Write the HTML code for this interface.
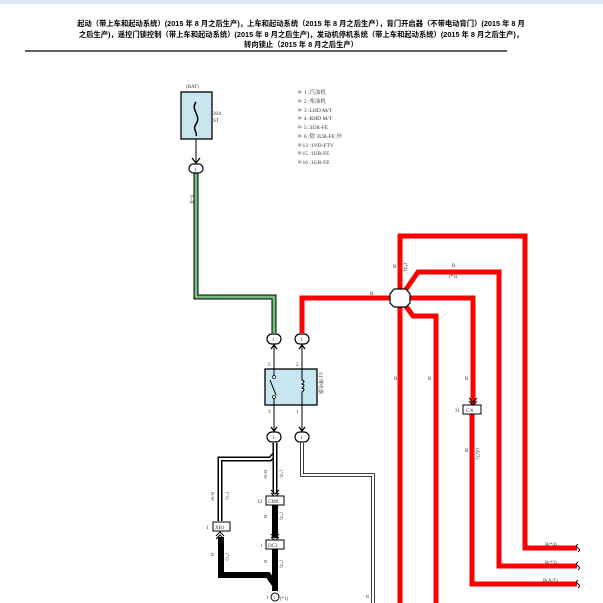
<!DOCTYPE html>
<html><head><meta charset="utf-8"><style>
body{margin:0;background:#fff}
svg{display:block}
text{font-family:"Liberation Serif","Noto Serif CJK SC",serif;fill:#333}
.t{font-family:"Liberation Sans","Noto Sans CJK SC",sans-serif;font-weight:bold;fill:#000;font-size:7.3px}
</style></head><body>
<svg width="603" height="603" viewBox="0 0 603 603" xmlns="http://www.w3.org/2000/svg">
<rect x="0" y="0" width="603" height="4" fill="#dbe7f5"/>
<text class="t" x="301" y="26" text-anchor="middle">起动（带上车和起动系统）(2015 年 8 月之后生产)，上车和起动系统（2015 年 8 月之后生产），背门开启器（不带电动背门）(2015 年 8 月</text>
<text class="t" x="301" y="37" text-anchor="middle">之后生产)，遥控门锁控制（带上车和起动系统）(2015 年 8 月之后生产)，发动机停机系统（带上车和起动系统）(2015 年 8 月之后生产)，</text>
<text class="t" x="301" y="47" text-anchor="middle">转向锁止（2015 年 8 月之后生产）</text>
<line x1="25" y1="51" x2="507" y2="51" stroke="#000" stroke-width="1.3"/>

<g font-size="5.5">
<text x="297" y="94">＊ 1 :汽油机</text>
<text x="297" y="103">＊ 2 :柴油机</text>
<text x="297" y="112">＊ 3 :LHD M/T</text>
<text x="297" y="120">＊ 4 :RHD M/T</text>
<text x="297" y="129">＊ 5 :3UR-FE</text>
<text x="297" y="138">＊ 6 :除 3UR-FE 外</text>
<text x="297" y="147">＊13 :1VD-FTV</text>
<text x="297" y="155">＊15 :1UR-FE</text>
<text x="297" y="164">＊16 :1GR-FE</text>
</g>

<text x="186" y="88" font-size="5">(BAT)</text>
<rect x="181" y="92" width="31" height="47" fill="#c8e6ef" stroke="#000" stroke-width="1.3"/>
<path d="M196 102 C190 110,202 116,196 124 C192 130,198 132,196 136" fill="none" stroke="#000" stroke-width="1.5"/>
<text x="213" y="115" font-size="5">30A</text>
<text x="213" y="122" font-size="5">ST</text>
<line x1="196" y1="139" x2="196" y2="162" stroke="#000"/>
<path d="M192 158 L196 163 L200 158" fill="none" stroke="#000" stroke-width="1.3"/>

<path d="M196 172 V297 H274 V333" fill="none" stroke="#000" stroke-width="5"/>
<path d="M196 172 V297 H274 V333" fill="none" stroke="#2e8b3a" stroke-width="3.5"/>
<path d="M196 172 V297 H274 V333" fill="none" stroke="#fff" stroke-width="0.8"/>
<text x="190" y="195" font-size="5" transform="rotate(90 190 195)">G-B</text>

<g fill="none" stroke="#f00" stroke-width="5">
<path d="M302 333 V298 H400"/>
<path d="M400 603 V236 H525 V548 H577"/>
<path d="M400 298 L418 272 H499 V566 H577"/>
<path d="M400 298 H473 V405"/>
<path d="M400 298 L413 316 H436 V603"/>
<path d="M472 410 V584 H577"/>
</g>
<polygon points="394,289 406,289 410,294 410,303 406,307 394,307 390,303 390,294" fill="#fff" stroke="#000" stroke-width="1.2"/>
<g font-size="5">
<text x="370" y="295">R</text>
<text x="452" y="267">R</text>
<text x="449" y="278">(*3)</text>
<text x="393" y="268">R</text>
<text x="404" y="263" transform="rotate(90 404 263)">(*4)</text>
<text x="394" y="380">R</text><text x="428" y="380">R</text><text x="465" y="380">R</text>
<text x="465" y="452">B</text>
<text x="476" y="448" transform="rotate(90 476 448)">(A/T)</text>
<text x="545" y="546">R(*4)</text>
<text x="545" y="564">R(*3)</text>
<text x="543" y="582">R(A/T)</text>
</g>
<g fill="none" stroke="#000" stroke-width="1">
<path d="M578 544 q-3 2 0 4 q3 2 0 4"/><path d="M578 562 q-3 2 0 4 q3 2 0 4"/><path d="M578 580 q-3 2 0 4 q3 2 0 4"/>
</g>
<path d="M469 398 L473 402 L477 398 M469 401 L473 405 L477 401" fill="none" stroke="#000" stroke-width="1"/>
<rect x="463" y="405" width="18" height="9" fill="#fff" stroke="#000"/>
<text x="466" y="412" font-size="5">C/6</text>
<text x="455" y="412" font-size="5">31</text>

<line x1="274" y1="345" x2="274" y2="431" stroke="#000"/>
<line x1="302" y1="345" x2="302" y2="431" stroke="#000"/>
<path d="M271 349 L274 345 L277 349 M299 349 L302 345 L305 349 M271 427 L274 431 L277 427 M299 427 L302 431 L305 427" fill="none" stroke="#000" stroke-width="1.3"/>
<rect x="265" y="369" width="52" height="36" fill="#c8e6ef" stroke="#000" stroke-width="1.3"/>
<path d="M274 369 V376 M274 398 V405 M270 380 L276 395" stroke="#000" fill="none"/>
<circle cx="274" cy="377" r="1.5" fill="#fff" stroke="#000" stroke-width="0.7"/>
<circle cx="274" cy="397" r="1.5" fill="#fff" stroke="#000" stroke-width="0.7"/>
<path d="M302 369 V380 q4 1 0 4 q4 1 0 4 q4 1 0 4 V405" fill="none" stroke="#000"/>
<text x="319" y="372" font-size="5" transform="rotate(90 319 372)">ST 继电器</text>
<g font-size="5"><text x="268" y="366">5</text><text x="296" y="366">2</text><text x="268" y="413">3</text><text x="296" y="413">1</text></g>

<path d="M302 443 V475 H373 V603" fill="none" stroke="#000" stroke-width="3.5"/>
<path d="M302 443 V475 H373 V603" fill="none" stroke="#fff" stroke-width="2"/>
<text x="366" y="598" font-size="4.5">B</text>

<path d="M275 443 V454 L270 459 H220 V521" fill="none" stroke="#000" stroke-width="5"/>
<path d="M275 443 V454 L270 459 H220 V521" fill="none" stroke="#fff" stroke-width="2"/>
<path d="M275 443 V494" fill="none" stroke="#000" stroke-width="5"/>
<path d="M275 443 V494" fill="none" stroke="#fff" stroke-width="2"/>
<path d="M275 505 V538 M275 549 V591 M275 585 L268 575 H221 V537" fill="none" stroke="#000" stroke-width="6"/>
<path d="M271 490 L275 494 L279 490 M271 493 L275 497 L279 493 M271 534 L275 538 L279 534 M271 537 L275 541 L279 537 M216 536 L220 532 L224 536 M216 539 L220 535 L224 539" fill="none" stroke="#000" stroke-width="1"/>
<rect x="266" y="496" width="18" height="9" fill="#fff" stroke="#000"/><text x="268" y="503" font-size="5">CM6</text><text x="257" y="503" font-size="5">12</text>
<rect x="213" y="522" width="17" height="9" fill="#fff" stroke="#000"/><text x="215" y="529" font-size="5">XB1</text><text x="206" y="529" font-size="5">1</text>
<rect x="266" y="540" width="18" height="9" fill="#fff" stroke="#000"/><text x="268" y="547" font-size="5">DC2</text><text x="260" y="547" font-size="5">1</text>
<circle cx="275" cy="597" r="4" fill="#fff" stroke="#000"/><text x="273" y="599" font-size="4">1</text>
<text x="266" y="599" font-size="5">1</text><text x="280" y="600" font-size="5">(*1)</text>
<g font-size="4.5">
<text x="264" y="470" transform="rotate(90 264 470)">B-W</text><text x="280" y="470" transform="rotate(90 280 470)">(*2)</text>
<text x="264" y="515" transform="rotate(90 264 515)">B</text><text x="280" y="512" transform="rotate(90 280 512)">(*2)</text>
<text x="264" y="560" transform="rotate(90 264 560)">B</text><text x="280" y="560" transform="rotate(90 280 560)">(*2)</text>
<text x="211" y="492" transform="rotate(90 211 492)">B-W</text><text x="226" y="492" transform="rotate(90 226 492)">(*1)</text>
<text x="211" y="553" transform="rotate(90 211 553)">B</text><text x="226" y="553" transform="rotate(90 226 553)">(*1)</text>
</g>

<g fill="#fff" stroke="#000" stroke-width="1.2">
<rect x="189" y="164" width="14" height="9" rx="4.5"/>
<rect x="267" y="334" width="14" height="10" rx="5"/>
<rect x="295" y="334" width="14" height="10" rx="5"/>
<rect x="267" y="432" width="14" height="10" rx="5"/>
<rect x="295" y="432" width="14" height="10" rx="5"/>
</g>
<g font-size="5"><text x="194" y="171">1</text><text x="272" y="341">1</text><text x="300" y="341">1</text><text x="272" y="439">1</text><text x="300" y="439">1</text></g>
</svg>
</body></html>
